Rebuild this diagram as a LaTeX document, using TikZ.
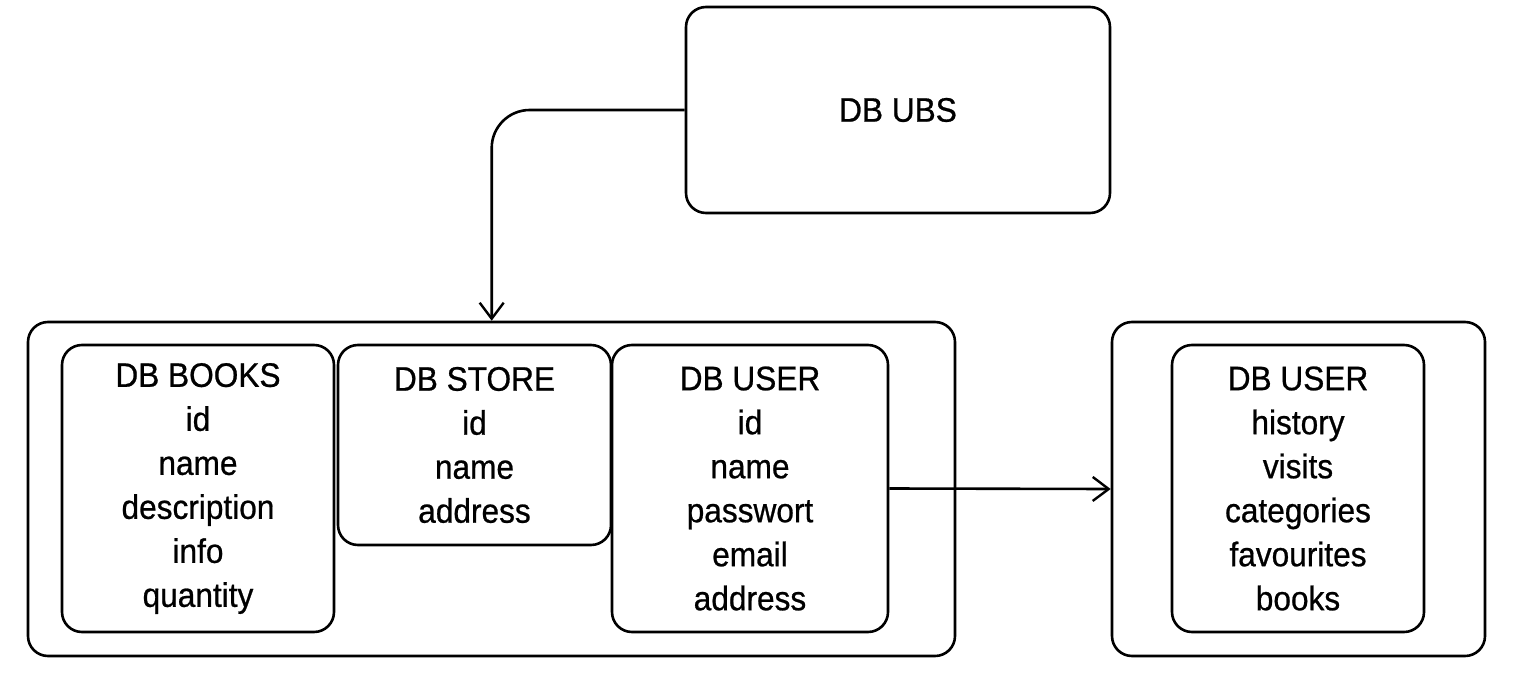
\documentclass[tikz,border=0pt]{standalone}
\usepackage{fontspec}
\setmainfont{Liberation Sans}[FakeStretch=0.93,FakeBold=0.7]
\usetikzlibrary{arrows.meta}
\tikzset{
  box/.style={draw=black, line width=2.6pt, rounded corners=20pt, inner sep=0pt, align=center,
    font=\fontsize{34}{44}\selectfont, text=black},
  conn/.style={draw=black, line width=2.6pt, -{Straight Barb[length=16pt,width=24pt,line width=2.4pt]}}
}
\begin{document}
\begin{tikzpicture}[x=1pt,y=-1pt]
\useasboundingbox (0,0) rectangle (1520,674);
\node[box, minimum width=424pt, minimum height=206pt] (ubs) at (898,110) {DB UBS};
\node[box, minimum width=927pt, minimum height=334pt] (outer) at (491.5,489) {};
\node[box, minimum width=373pt, minimum height=334pt] (outerr) at (1298.5,489) {};
\node[box, minimum width=272pt, minimum height=287pt] (books) at (198,488.5) {DB BOOKS\\id\\name\\description\\info\\quantity};
\node[box, minimum width=273pt, minimum height=200pt] (store) at (474.5,445) {DB STORE\\id\\name\\address};
\node[box, minimum width=276pt, minimum height=287pt] (user) at (750,488.5) {DB USER\\id\\name\\passwort\\email\\address};
\node[box, minimum width=252pt, minimum height=287pt] (userr) at (1298,488.5) {DB USER\\history\\visits\\categories\\favourites\\books};
\draw[conn, rounded corners=38pt] (ubs.west) -| ([xshift=465pt]outer.north west);
\draw[conn] (user.east) -- (outerr.west);
\end{tikzpicture}
\end{document}
